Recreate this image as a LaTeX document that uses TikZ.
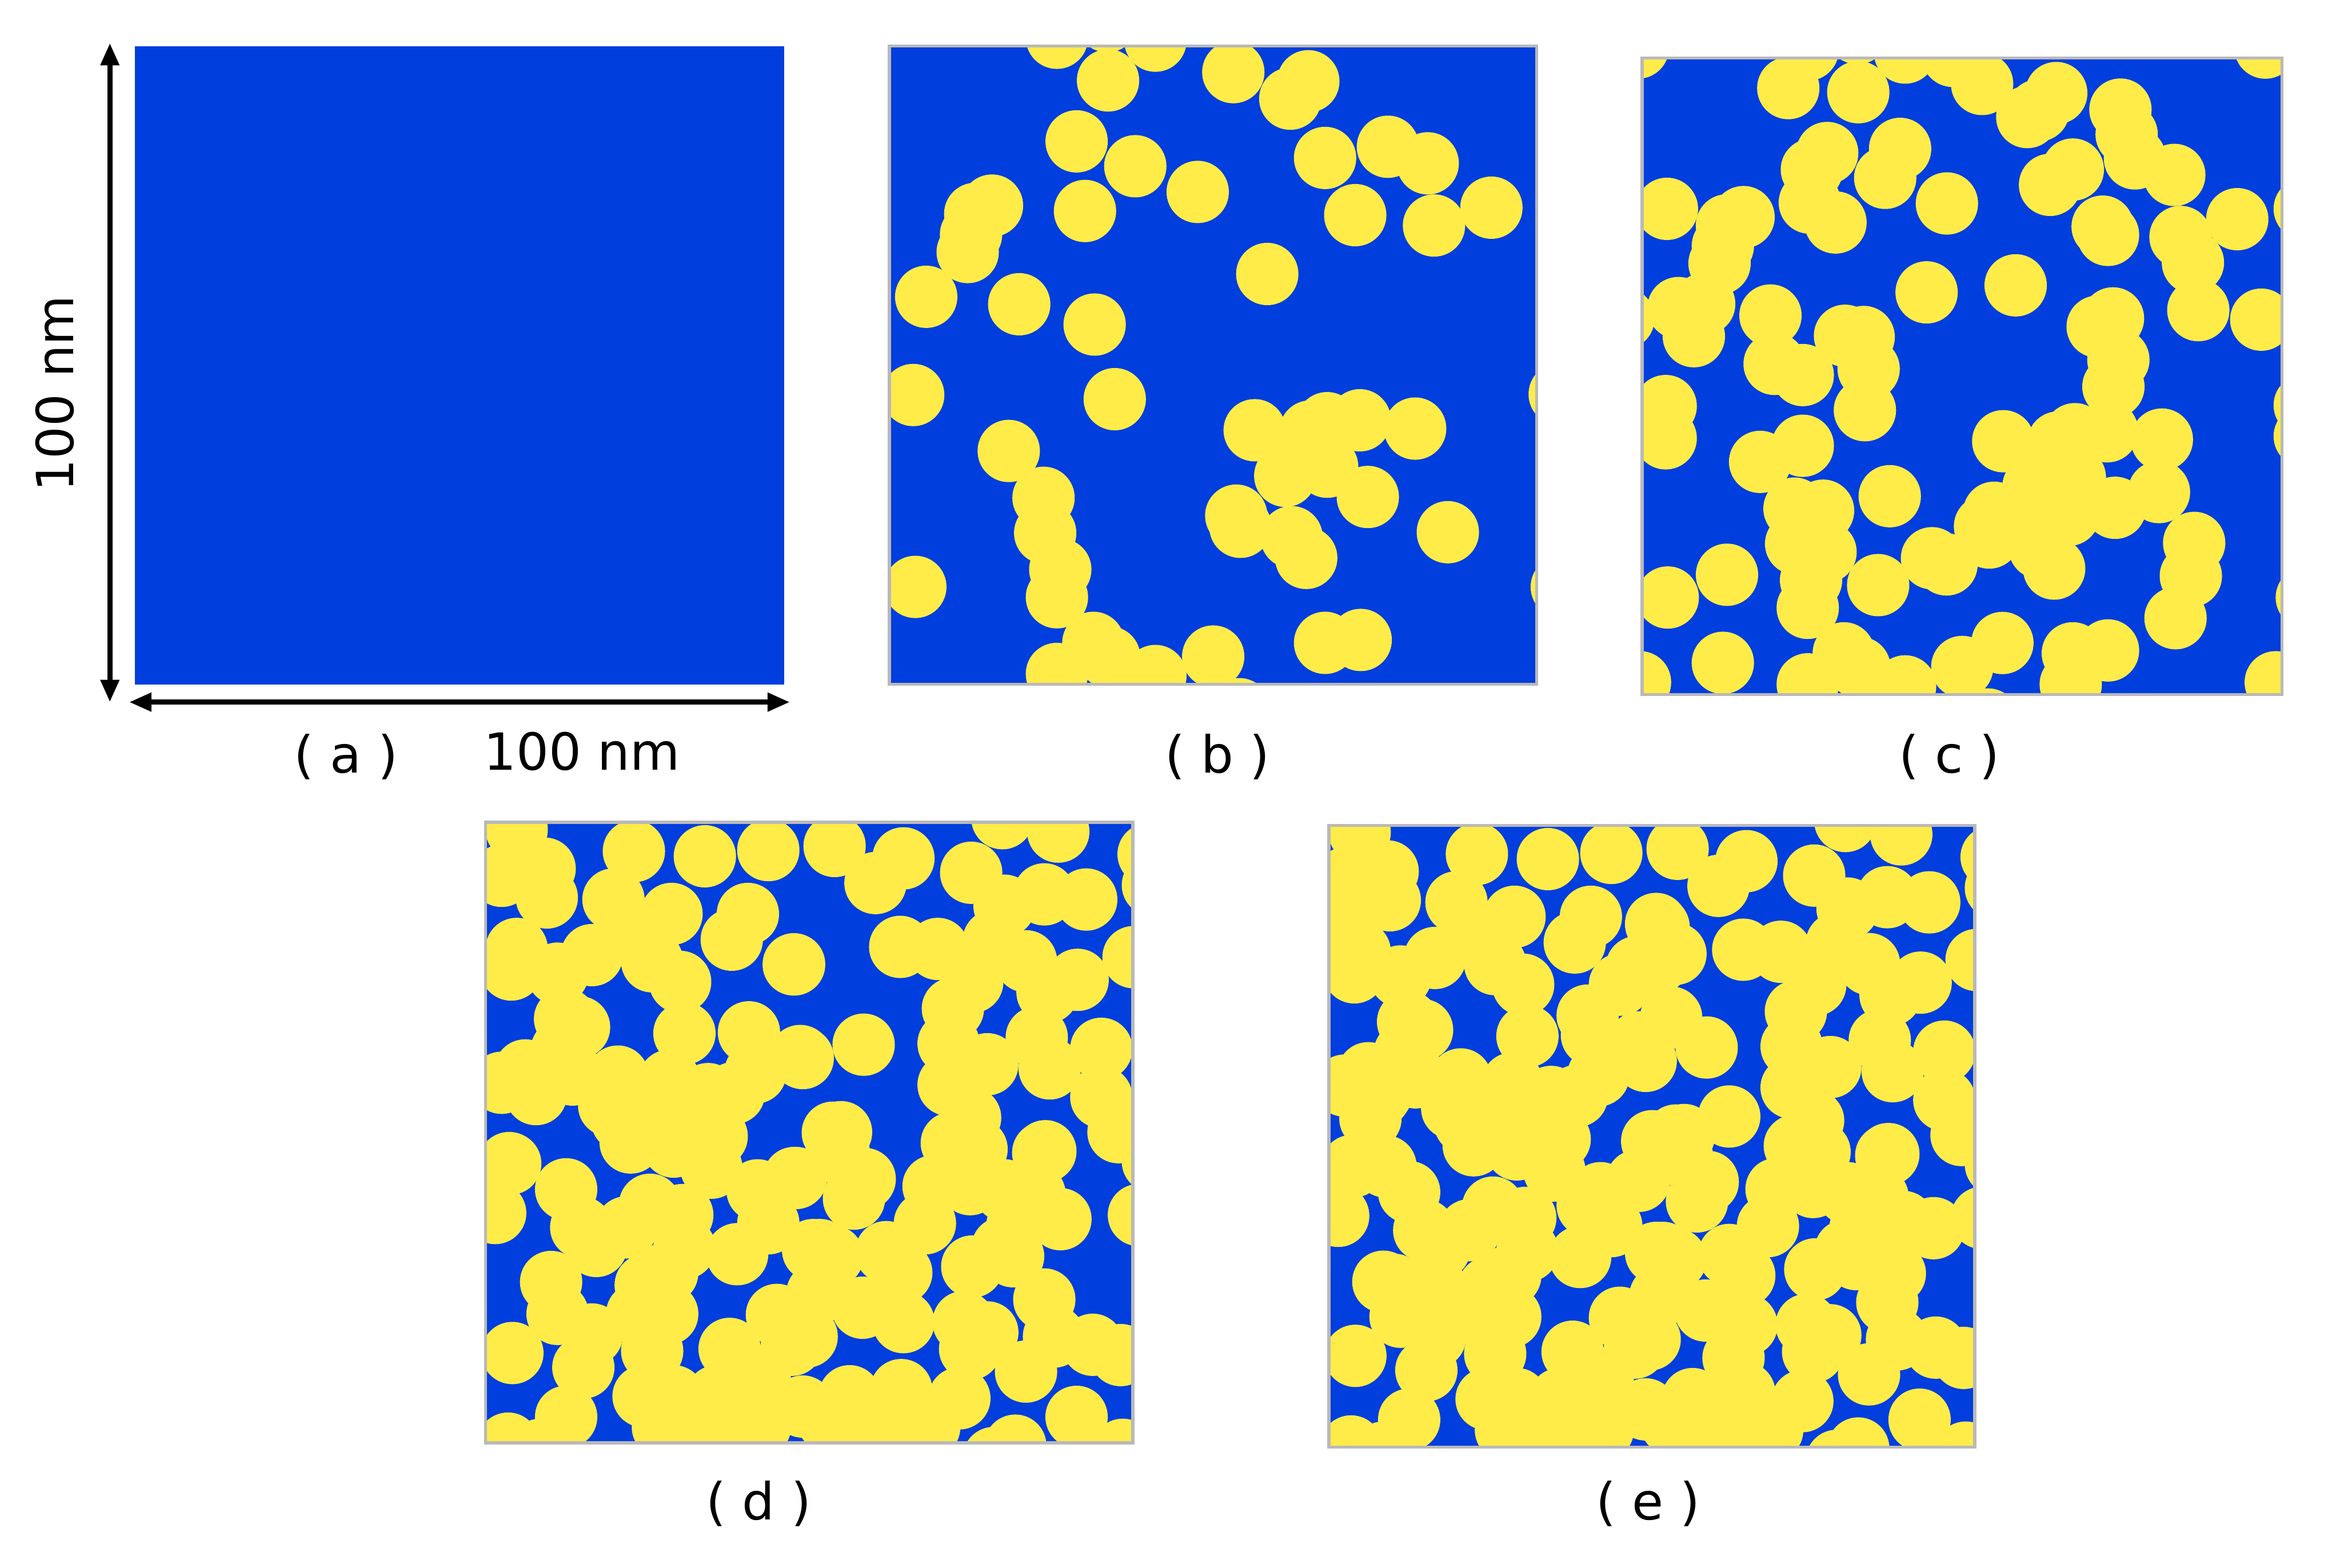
\documentclass[tikz,border=0pt]{standalone}
\usepackage{fontspec}
\setmainfont{DejaVu Sans}
\usetikzlibrary{arrows.meta}
\definecolor{bg}{RGB}{0,62,222}
\definecolor{yl}{RGB}{255,236,72}
\def\Blist{410/-5, 532/98, 645/2, 530/-45, 831/78, 800/-60, 1010/100, 967/142, 457/245, 597/305, 746/367, 477/413, 1050/285, 1200/258, 1295/298, 1122/423, 1310/448, 1447/405, 912/565, 255/400, 215/420, 205/470, 197/512, 98/620, 320/638, 500/687, 67/857, 548/867, 295/992, 378/1105, 382/1190, 418/1278, 410/1345, 72/1320, 497/1455, 410/1530, 535/1490, 645/1535, 783/1488, 1050/1455, 1135/1448, 1343/1188, 1152/1103, 838/1148, 848/1175, 970/1200, 1005/1250, 882/942, 1015/945, 1055/925, 1133/918, 1265/938, 955/1052, 1055/1030, 1610/855, 1615/1320, 845/1615}
\def\Clist{0/-10, 205/-65, 363/88, 420/285, 415/365, 633/235, 70/380, 160/610, 135/688, -35/645, 330/755, 398/782, 545/690, 557/767, 697/582, 67/935, 398/953, 608/1075, 447/1110, 453/1210, 215/1265, 205/1478, 5/1525, 580/1290, 710/1225, 745/1240, 860/1115, 960/1150, 1040/1120, 1258/1065, 1147/645, 1110/665, 1160/745, 1148/810, 1353/625, 1505/648, 1165/140, 1180/200, 995/322, 1135/443, 1340/510, 1610/380, 940/158, 760/10, 1515/-10, 1610/930, 1335/1268, 1298/1370, 1540/1525, 880/1430, 1045/1530}
% panel d, by quadrant (coordinates of quadrant views)
\def\DqA{300/250, 715/165, 620/400, 100/285, 170/60, 170/640, 310/390, 520/670, 145/740, 395/980, 460/1020, 360/760, 640/1260, 890/470, 930/800, 800/700, 950/1050, 1250/1045, 1060/1345, 1045/190, 1340/160, 1245/470, 1170/595, 1460/715, 1500/1170, 1180/1340, 1280/1240, 210/1230, 260/1345, 600/1400, 135/1680, 800/1430, 960/1480, 100/1290, 690/560, 700/1580, 900/1600, 1100/1550, 380/1130, 430/1250, 880/1280}
\def\DqB{160/140, 480/200, 350/320, -30/715, 465/630, 710/930, 295/1105, 0/1160, 190/1530, 690/1300, 940/5, 1200/70, 1620/180, 1640/330, 795/270, 1135/375, 1330/400, 1290/790, 1550/680, 1400/1125, 870/1200, 1160/1220, 1400/1360, 1130/1630, 790/1460, 900/600, 1050/700, 800/800, 1150/850, 690/1100, 1100/1070, 640/640, 1480/1530, 950/430}
\def\DqC{140/170, 400/295, 660/-40, 790/370, 1075/190, 1460/240, 940/420, 1340/460, 1195/610, 1580/590, 1380/905, 870/700, 70/410, 470/480, 330/745, 150/1090, 540/570, 770/760, 520/1000, 480/1160, 130/1530, 400/1400, 760/1300, 1160/1070, 800/1080, 900/1300, 1100/1300, 1300/1200, 1450/1050, 1300/1450, 1050/1450, 1500/1350, 850/1450, 870/60, 1640/20, 950/580, 280/1560, 1290/300, 680/480, 360/900, 730/900, 870/900}
\def\DqD{180/120, 300/245, 705/70, 820/100, 1140/110, 1210/440, 1575/420, 1640/160, 1135/830, 1360/1050, 1490/1100, -20/240, 60/590, 250/340, 790/270, 580/460, 1010/470, 800/670, 760/940, 940/580, 870/990, 480/940, 290/870, 30/1010, 790/1070, 230/1300, 470/1270, 1050/1180, 740/1310, 1285/1400, 1000/1540, 1500/1560, 600/1450, 900/1600, 150/620, 400/600, 620/280, 950/300, 990/620, 350/1450, 130/1420, 470/700, 80/800, 1180/1010, 1090/320}
% extra particles of panel e
\def\EqA{90/470, 1560/520, 1380/800, 1550/700, 1470/1080, 1230/950, 220/1450, 270/1330, 1530/1560, 1330/1150}
\def\EqB{60/505, 150/650, 130/960, 150/1560, 400/1440}
\def\EqC{290/170, 540/780, 1230/360, 280/730}
\def\EqD{1350/470, 1170/690, 420/1100}
\newcommand\setpanel[4]{%
  \pgfmathsetmacro\sx{#3/1545}\pgfmathsetmacro\sy{#4/1540}%
  \pgfmathsetmacro\ox{#1-10*\sx}\pgfmathsetmacro\oy{#2-15*\sy}}
\newcommand\blobs[1]{\foreach \u/\v in #1 {\fill[yl] ({\ox+\sx*\u},{\oy+\sy*\v}) circle (21);}}
\newcommand\qblobs[5]{\foreach \u/\v in #3 {\fill[yl] ({(#1+0.37628*\u)/2.5976+#4},{(#2+0.36033*\v)/2.5976+#5}) circle (21);}}
\newcommand\dset[2]{%
  \qblobs{840}{1430}{\DqA}{#1}{#2}\qblobs{1400}{1430}{\DqB}{#1}{#2}%
  \qblobs{840}{1975}{\DqC}{#1}{#2}\qblobs{1400}{1975}{\DqD}{#1}{#2}}
\tikzset{
  frame/.style={draw=gray!55, line width=0.6pt},
  dimline/.style={line width=0.035cm, {Triangle[length=0.15cm,width=0.12cm]}-{Triangle[length=0.15cm,width=0.12cm]}},
  lbl/.style={font=\fontsize{9.8pt}{12pt}\selectfont, inner sep=0pt}
}
\begin{document}
\begin{tikzpicture}[x=0.01cm, y=-0.01cm]
\useasboundingbox (0,0) rectangle (1568,1056);
% (a)
\fill[bg] (91,31) rectangle (528,461);
% (b)
\begin{scope}
\setpanel{599}{31}{436}{430}
\clip (599,31) rectangle ++(436,430);
\fill[bg] (599,31) rectangle ++(436,430);
\blobs{\Blist}
\end{scope}
\draw[frame] (599,31) rectangle ++(436,430);
% (c)
\begin{scope}
\setpanel{1106}{39}{431}{429}
\clip (1106,39) rectangle ++(431,429);
\fill[bg] (1106,39) rectangle ++(431,429);
\blobs{\Blist}\blobs{\Clist}
\end{scope}
\draw[frame] (1106,39) rectangle ++(431,429);
% (d)
\begin{scope}
\clip (327,554) rectangle ++(436,418);
\fill[bg] (327,554) rectangle ++(436,418);
\dset{0}{0}
\end{scope}
\draw[frame] (327,554) rectangle ++(436,418);
% (e)
\begin{scope}
\clip (895,556) rectangle ++(435,419);
\fill[bg] (895,556) rectangle ++(435,419);
\dset{567.8}{1.9}
\qblobs{840}{1430}{\EqA}{567.8}{1.9}\qblobs{1400}{1430}{\EqB}{567.8}{1.9}%
\qblobs{840}{1975}{\EqC}{567.8}{1.9}\qblobs{1400}{1975}{\EqD}{567.8}{1.9}
\end{scope}
\draw[frame] (895,556) rectangle ++(435,419);
% dimension arrows
\coordinate (vt) at (74,29);
\coordinate (vb) at (74,473);
\coordinate (hl) at (87,473);
\coordinate (hr) at (532,473);
\draw[dimline] (vt) -- (vb);
\draw[dimline] (hl) -- (hr);
% labels
\node[lbl, rotate=90] (lv) at (37,265) {100 nm};
\node[lbl] (lh) at (392,506) {100 nm};
\node[lbl] (la) at (233,510) {( a )};
\node[lbl] (lb) at (820,510) {( b )};
\node[lbl] (lc) at (1313,510) {( c )};
\node[lbl] (ld) at (511,1013) {( d )};
\node[lbl] (le) at (1110,1013) {( e )};
\end{tikzpicture}
\end{document}
